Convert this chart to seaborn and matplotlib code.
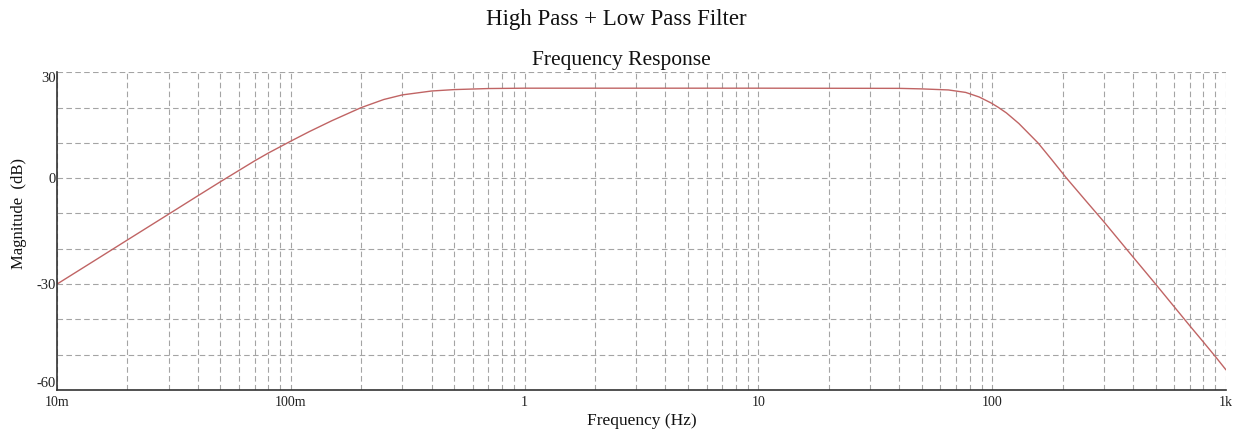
import numpy as np
import pandas as pd
import matplotlib
matplotlib.use("Agg")
import matplotlib.pyplot as plt
import matplotlib.ticker as mticker
import seaborn as sns

# values
freq_hz = [0.01, 0.015, 0.02, 0.03, 0.04, 0.05, 0.06, 0.07, 0.08, 0.1,
           0.12, 0.15, 0.2, 0.25, 0.3, 0.4, 0.5, 0.7, 1.0, 10.0,
           40.0, 50.0, 65.0, 77.0, 88.0, 99.0, 106.0, 115.0, 130.0, 157.0,
           180.0, 208.0, 250.0, 300.0, 400.0, 500.0, 600.0, 700.0, 800.0, 900.0,
           1000.0]
magnitude_db = [-30.0, -22.7, -17.5, -10.2, -5.0, -1.0, 2.2, 4.9, 7.1, 10.5,
                13.2, 16.3, 20.0, 22.3, 23.6, 24.7, 25.1, 25.4, 25.5, 25.5,
                25.45, 25.3, 25.0, 24.3, 23.0, 21.3, 20.1, 18.5, 15.5, 10.0,
                5.2, 0.0, -6.2, -12.3, -22.3, -30.0, -36.4, -41.8, -46.4, -50.5,
                -54.3]

x_ticks = [0.01, 0.1, 1, 10, 100, 1000]
x_tick_labels = ["10m", "100m", "1", "10", "100", "1k"]
y_ticks = [-60, -30, 0, 30]
y_tick_labels = ["-60", "-30", "0", "30"]

title_text = "High Pass + Low Pass Filter"
subtitle_text = "Frequency Response"
x_label = "Frequency (Hz)"
y_label = "Magnitude  (dB)"

df = pd.DataFrame({"freq": freq_hz, "mag": magnitude_db})

sns.set_style("white")
plt.rcParams["font.family"] = ["Liberation Serif", "DejaVu Serif"]

fig = plt.figure(figsize=(12.33, 4.30), dpi=100)
ax = fig.add_axes([57 / 1233, 1 - 390 / 430, (1226 - 57) / 1233, (390 - 72.3) / 430])

sns.lineplot(data=df, x="freq", y="mag", ax=ax, color="#c06464", linewidth=1.0,
             sort=False)

ax.set_xscale("log")
ax.set_xlim(0.01, 1000)
ax.set_ylim(-60, 30)

ax.set_xticks(x_ticks)
ax.set_xticklabels(x_tick_labels)
ax.xaxis.set_minor_locator(mticker.LogLocator(base=10, subs=np.arange(2, 10), numticks=50))
ax.xaxis.set_minor_formatter(mticker.NullFormatter())
ax.set_yticks(y_ticks)
ax.set_yticklabels(y_tick_labels)
ax.yaxis.set_minor_locator(mticker.MultipleLocator(10))

grid_kw = dict(color="#a4a4a4", linestyle=(0, (5, 3)), linewidth=0.8)
ax.grid(True, which="major", **grid_kw)
ax.grid(True, which="minor", **grid_kw)
ax.set_axisbelow(True)

ax.tick_params(axis="both", which="both", length=0, labelsize=10, colors="#222222")
ax.tick_params(axis="x", pad=4)
ax.tick_params(axis="y", pad=1, labelsize=10.5)

for lbl in ax.get_yticklabels():
    if lbl.get_text() == "30":
        lbl.set_va("top")
    elif lbl.get_text() == "-60":
        lbl.set_va("bottom")

for side in ["top", "right"]:
    ax.spines[side].set_visible(False)
for side in ["left", "bottom"]:
    ax.spines[side].set_color("#333333")
    ax.spines[side].set_linewidth(1.2)

ax.set_xlabel(x_label, fontsize=12.5, labelpad=3, color="#111111")
ax.set_ylabel(y_label, fontsize=12, labelpad=5, color="#111111")
ax.yaxis.set_label_coords(-0.0255, 0.554)

fig.text(0.5, 1 - 19 / 430, title_text, ha="center", va="center", fontsize=16.5, color="#111111")
fig.text(0.504, 1 - 61 / 430, subtitle_text, ha="center", va="center", fontsize=15.5, color="#111111")

fig.savefig("out.png", dpi=100, facecolor="white")
